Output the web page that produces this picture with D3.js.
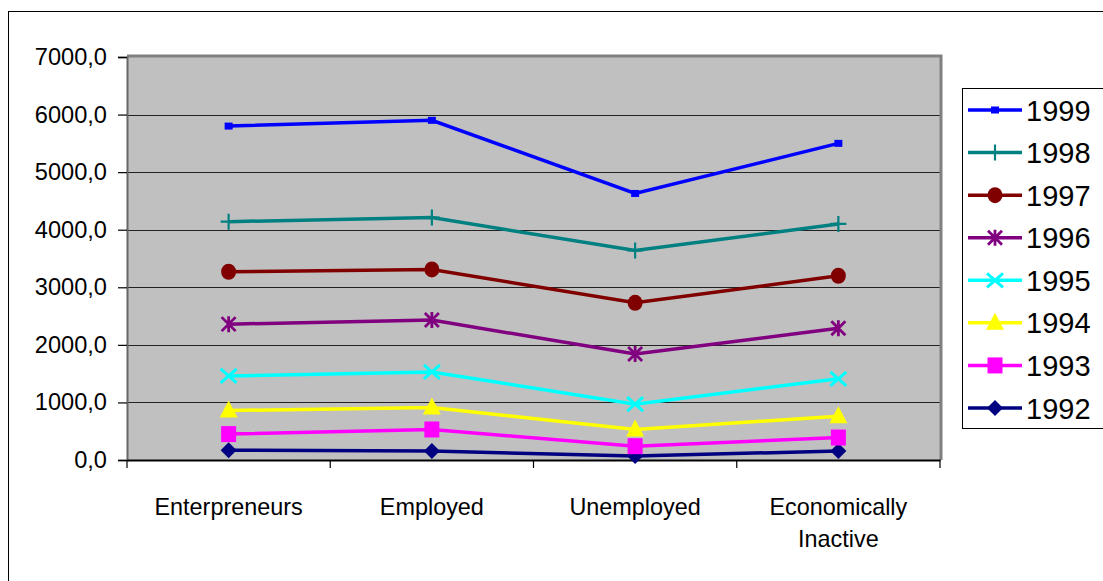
<!DOCTYPE html>
<html>
<head>
<meta charset="utf-8">
<script src="https://cdn.jsdelivr.net/npm/d3@7/dist/d3.min.js"></script>
<style>
  html, body { margin: 0; padding: 0; background: #fff; }
  svg { display: block; font-family: "Liberation Sans", Arial, sans-serif; }
</style>
</head>
<body>
<svg id="chart" width="1103" height="581"></svg>
<script>
// ---- data ----
const categories = ["Enterpreneurs", "Employed", "Unemployed", "Economically Inactive"];
const yTicks = [0, 1000, 2000, 3000, 4000, 5000, 6000, 7000];
const seriesNames = ["1999", "1998", "1997", "1996", "1995", "1994", "1993", "1992"];
const v1999 = [5800, 5900, 4630, 5500];
const v1998 = [4140, 4210, 3640, 4100];
const v1997 = [3270, 3310, 2730, 3200];
const v1996 = [2360, 2430, 1840, 2290];
const v1995 = [1460, 1530, 970, 1410];
const v1994 = [860, 910, 530, 760];
const v1993 = [450, 530, 240, 390];
const v1992 = [170, 155, 70, 155];
const seriesValues = [v1999, v1998, v1997, v1996, v1995, v1994, v1993, v1992];
const seriesColors = ["#0000FF", "#008080", "#800000", "#800080", "#00FFFF", "#FFFF00", "#FF00FF", "#000080"];
const seriesMarkers = ["smallSquare", "plus", "circle", "asterisk", "x", "triangle", "square", "diamond"];

const series = seriesNames.map((n, i) => ({ name: n, values: seriesValues[i], color: seriesColors[i], marker: seriesMarkers[i] }));

// ---- layout ----
const svg = d3.select("#chart");
const plot = { left: 127, right: 940, top: 57, bottom: 460 };

// outer chart border
svg.append("rect").attr("x", 8.5).attr("y", 11.5).attr("width", 1200).attr("height", 700)
  .attr("fill", "#fff").attr("stroke", "#000").attr("stroke-width", 1);

const x = d3.scaleBand().domain(categories).range([plot.left, plot.right]).paddingInner(0).paddingOuter(0);
const y = d3.scaleLinear().domain([0, 7000]).range([plot.bottom, plot.top]);
const cx = c => x(c) + x.bandwidth() / 2;

// plot area background
svg.append("rect").attr("x", plot.left).attr("y", plot.top)
  .attr("width", plot.right - plot.left).attr("height", plot.bottom - plot.top)
  .attr("fill", "#C0C0C0");

// gridlines
svg.append("g").selectAll("line").data(yTicks.filter(t => t > 0 && t < 7000)).join("line")
  .attr("x1", plot.left).attr("x2", plot.right)
  .attr("y1", d => Math.round(y(d)) + 0.5).attr("y2", d => Math.round(y(d)) + 0.5)
  .attr("stroke", "#222").attr("stroke-width", 1.2);

// plot area border top/right (gray)
svg.append("path")
  .attr("d", `M${plot.left},${plot.top - 1}H${plot.right + 1}V${plot.bottom}`)
  .attr("fill", "none").attr("stroke", "#808080").attr("stroke-width", 3);

// y axis
const yAxis = d3.axisLeft(y).tickValues(yTicks).tickSize(9).tickPadding(11)
  .tickFormat(d => d3.format(".1f")(d).replace(".", ","));
const gy = svg.append("g").attr("transform", `translate(${plot.left},0)`).call(yAxis);
gy.select(".domain").attr("stroke", "#666").attr("stroke-width", 2);
gy.selectAll(".tick line").attr("stroke", "#000").attr("stroke-width", 1.2);
gy.selectAll(".tick text").attr("font-size", 23.6).attr("fill", "#000")
  .attr("font-family", "'Liberation Sans', Arial, sans-serif");

// x axis
const xAxis = d3.axisBottom(x).tickSize(0).tickFormat("");
const gx = svg.append("g").attr("transform", `translate(0,${plot.bottom})`).call(xAxis);
gx.select(".domain").attr("stroke", "#000").attr("stroke-width", 2);
gx.selectAll(".tick").remove();
// category boundary ticks
const bounds = categories.map(c => x(c)).concat([plot.right]);
svg.append("g").selectAll("line").data(bounds).join("line")
  .attr("x1", d => d).attr("x2", d => d)
  .attr("y1", plot.bottom).attr("y2", plot.bottom + 8)
  .attr("stroke", "#000").attr("stroke-width", 1.2);

// category labels
const wrapLabel = c => c === "Economically Inactive" ? ["Economically", "Inactive"] : [c];
const cl = svg.append("g").selectAll("text").data(categories).join("text")
  .attr("x", d => cx(d)).attr("y", 515)
  .attr("text-anchor", "middle").attr("font-size", 23.4).attr("fill", "#000");
cl.each(function(d) {
  const t = d3.select(this);
  wrapLabel(d).forEach((ln, i) => {
    t.append("tspan").attr("x", cx(d)).attr("dy", i === 0 ? 0 : 32).text(ln);
  });
});

// marker drawing
function drawMarker(g, type, color, px, py) {
  switch (type) {
    case "smallSquare":
      g.append("rect").attr("x", px - 4).attr("y", py - 3.5).attr("width", 8).attr("height", 7).attr("fill", color);
      break;
    case "plus":
      g.append("path").attr("d", `M${px - 8},${py}H${px + 8}M${px},${py - 8}V${py + 8}`)
        .attr("stroke", color).attr("stroke-width", 2.2).attr("fill", "none");
      break;
    case "circle":
      g.append("ellipse").attr("cx", px).attr("cy", py).attr("rx", 7.5).attr("ry", 8).attr("fill", color);
      break;
    case "asterisk":
      g.append("path").attr("d", `M${px - 7},${py - 7}L${px + 7},${py + 7}M${px - 7},${py + 7}L${px + 7},${py - 7}M${px},${py - 8}V${py + 8}`)
        .attr("stroke", color).attr("stroke-width", 2.8).attr("fill", "none");
      break;
    case "x":
      g.append("path").attr("d", `M${px - 8},${py - 7}L${px + 8},${py + 7}M${px - 8},${py + 7}L${px + 8},${py - 7}`)
        .attr("stroke", color).attr("stroke-width", 3).attr("fill", "none");
      break;
    case "triangle":
      g.append("path").attr("d", `M${px},${py - 10}L${px + 9},${py + 7}L${px - 9},${py + 7}Z`).attr("fill", color);
      break;
    case "square":
      g.append("rect").attr("x", px - 7.5).attr("y", py - 8).attr("width", 15).attr("height", 16).attr("fill", color);
      break;
    case "diamond":
      g.append("path").attr("d", `M${px},${py - 8}L${px + 8},${py}L${px},${py + 8}L${px - 8},${py}Z`).attr("fill", color);
      break;
  }
}

// lines (draw 1992 first so 1999 on top)
const line = d3.line().x((d, i) => cx(categories[i])).y(d => y(d));
const linesG = svg.append("g");
series.slice().reverse().forEach(s => {
  const g = linesG.append("g");
  g.append("path").datum(s.values).attr("d", line)
    .attr("fill", "none").attr("stroke", s.color).attr("stroke-width", 3.5).attr("stroke-linejoin", "miter");
  s.values.forEach((v, i) => drawMarker(g, s.marker, s.color, cx(categories[i]), y(v)));
});

// legend
const leg = svg.append("g");
leg.append("rect").attr("x", 962.5).attr("y", 88.5).attr("width", 200).attr("height", 340)
  .attr("fill", "#fff").attr("stroke", "#000").attr("stroke-width", 1);
const legY = d3.scalePoint().domain(seriesNames).range([110, 408]);
series.forEach(s => {
  const gy0 = legY(s.name);
  const g = leg.append("g");
  g.append("line").attr("x1", 968).attr("x2", 1022).attr("y1", gy0).attr("y2", gy0)
    .attr("stroke", s.color).attr("stroke-width", 3.5);
  drawMarker(g, s.marker, s.color, 995, gy0);
  g.append("text").attr("x", 1026).attr("y", gy0 + 10.5).attr("font-size", 29).attr("fill", "#000").text(s.name);
});
</script>
</body>
</html>
